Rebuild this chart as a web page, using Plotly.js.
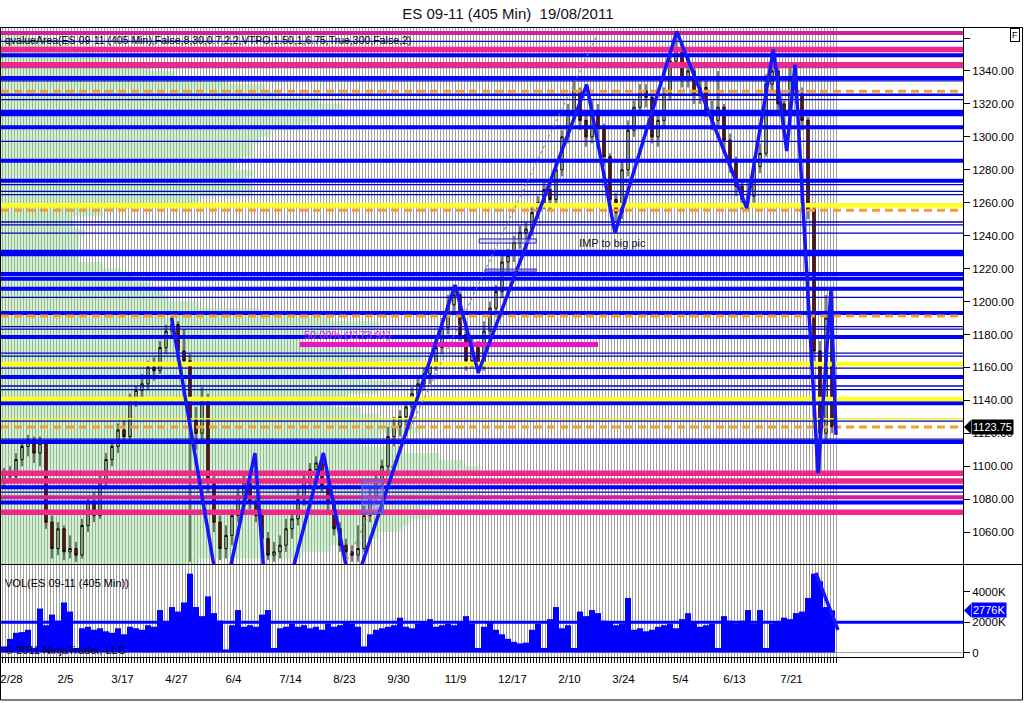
<!DOCTYPE html>
<html><head><meta charset="utf-8">
<script src="https://cdn.plot.ly/plotly-3.0.1.min.js"></script>
<style>html,body{margin:0;padding:0;background:#fff}#c{width:1024px;height:703px}</style>
</head><body><div id="c"></div>
<script>
// ---------- data ----------
const dateLabels = ['2/28','2/5','3/17','4/27','6/4','7/14','8/23','9/30','11/9','12/17','2/10','3/24','5/4','6/13','7/21'];
const dateIdx = [1.25,10.25,19.75,28.75,38.25,47.75,56.75,65.75,75.25,84.75,94.25,103.25,112.75,121.75,131.25];

const openP = [1090,1096,1094,1104,1112,1116,1108,1114,1066,1050,
1062,1048,1050,1046,1064,1078,1070,1090,1104,1112,
1122,1118,1140,1146,1150,1160,1158,1172,1182,1186,
1170,1164,1128,1120,1140,1090,1066,1050,1058,1070,
1082,1090,1078,1070,1056,1046,1048,1052,1062,1068,
1080,1092,1098,1102,1088,1078,1062,1052,1048,1046,
1050,1070,1082,1090,1100,1118,1124,1130,1136,1144,
1150,1156,1162,1172,1184,1198,1204,1180,1164,1172,
1162,1182,1196,1206,1224,1228,1236,1242,1244,1254,
1260,1268,1262,1280,1300,1316,1328,1310,1300,1316,
1306,1288,1262,1254,1280,1304,1318,1328,1324,1300,
1310,1326,1346,1354,1336,1340,1326,1330,1316,1310,
1318,1298,1284,1270,1262,1264,1282,1290,1332,1340,
1320,1314,1336,1326,1310,1256,1170,1120,1190];
const highP = [1099,1100,1108,1116,1119,1118,1118,1116,1070,1066,
1064,1058,1054,1068,1082,1084,1094,1108,1116,1126,
1128,1144,1149,1156,1164,1166,1176,1186,1191,1188,
1183,1168,1136,1148,1144,1094,1070,1064,1074,1088,
1096,1094,1082,1074,1060,1054,1058,1068,1072,1086,
1096,1102,1106,1104,1092,1082,1066,1056,1052,1064,
1076,1088,1096,1104,1124,1130,1134,1140,1148,1154,
1160,1166,1178,1190,1204,1210,1206,1184,1178,1176,
1188,1200,1210,1228,1232,1240,1246,1248,1258,1264,
1272,1274,1284,1304,1320,1334,1330,1314,1322,1320,
1308,1290,1266,1286,1310,1322,1332,1332,1326,1314,
1330,1350,1362,1356,1346,1342,1336,1334,1322,1340,
1320,1302,1288,1274,1272,1288,1296,1338,1347,1342,
1322,1344,1340,1330,1312,1260,1176,1204,1196];
const lowP = [1088,1090,1092,1100,1106,1102,1100,1062,1044,1046,
1043,1044,1042,1044,1060,1066,1068,1086,1100,1108,
1114,1116,1136,1142,1146,1152,1156,1168,1178,1166,
1162,1042,1110,1116,1084,1060,1043,1044,1052,1066,
1078,1074,1066,1052,1043,1042,1044,1048,1056,1064,
1076,1086,1090,1084,1072,1058,1048,1044,1042,1042,
1048,1066,1078,1086,1096,1112,1118,1124,1132,1140,
1146,1150,1158,1168,1180,1192,1176,1158,1160,1156,
1158,1178,1192,1202,1218,1224,1232,1236,1240,1250,
1256,1256,1258,1276,1296,1312,1304,1294,1296,1300,
1282,1256,1248,1250,1276,1300,1314,1318,1296,1294,
1306,1322,1342,1330,1330,1320,1320,1312,1304,1306,
1292,1278,1264,1256,1256,1260,1278,1288,1328,1314,
1308,1312,1320,1304,1250,1164,1096,1116,1120];
const closeP = [1096,1094,1104,1112,1116,1108,1114,1066,1050,1062,
1048,1050,1046,1064,1078,1070,1090,1104,1112,1122,
1118,1140,1146,1150,1160,1158,1172,1182,1186,1170,
1164,1128,1120,1140,1090,1066,1050,1058,1070,1082,
1090,1078,1070,1056,1046,1048,1052,1062,1068,1080,
1092,1098,1102,1088,1078,1062,1052,1048,1046,1050,
1070,1082,1090,1100,1118,1124,1130,1136,1144,1150,
1156,1162,1172,1184,1198,1204,1180,1164,1172,1162,
1182,1196,1206,1224,1228,1236,1242,1244,1254,1260,
1268,1262,1280,1300,1316,1328,1310,1300,1316,1306,
1288,1262,1254,1280,1304,1318,1328,1324,1300,1310,
1326,1346,1354,1336,1340,1326,1330,1316,1310,1318,
1298,1284,1270,1262,1264,1282,1290,1332,1340,1320,
1314,1336,1326,1310,1256,1170,1120,1190,1124];
// volume in thousands
const volumeK = [400,900,1300,1350,1500,300,2900,1800,2500,2100,
3300,2700,300,1600,1700,1500,1600,1400,1300,1600,
1200,1700,1600,1500,1800,1700,2800,2000,3000,2700,
3300,5200,3000,2400,3700,2600,2100,200,1800,2800,
1700,1800,1700,2500,2800,300,1600,1700,1900,1700,
1800,1600,1700,1500,1900,1700,1800,2000,1900,1700,
400,1200,1500,1600,1700,1800,2300,1700,1600,1900,
2000,2200,1700,1800,1900,1800,2000,2400,1900,300,
1700,2000,1500,1200,900,700,600,650,1500,1900,
300,2200,3000,1600,1800,300,2700,2400,2800,2600,
2100,2000,1800,1900,3600,1500,1600,1400,1500,1700,
1800,1900,1600,2200,2600,2000,1700,1800,1900,300,
2400,2100,1900,2100,2800,1900,2800,300,1900,2000,
2300,2200,2600,2700,3600,5200,4700,3000,2776];
const volAvgK = 1990;
const volZzIdx = [135.3, 139.0];
const volZzK = [5250, 1485];

// swing zigzag (bar index, price)
const zzIdx = [27.95,36.23,41.83,44.35,53.22,57.98,75.17,79.05,97.12,101.83,112.12,123.78,128.22,130.45,131.83,135.67,137.83,138.67];
const zzPrice = [1190,1013,1108,985,1108,1022,1210,1157,1331.7,1241.6,1364,1256.8,1353,1291.4,1343.8,1095.8,1207,1119];

// horizontal levels
const lvlPrice = [1363,1358,1353,1349.5,1343.8,1342.2,1335.7,1334,1327.7,1325.6,1322.6,1314.5,1305.8,1297.3,1285.5,1273.4,1271,1266.9,1264.9,1258.4,1255.4,1248.3,1246.6,1241.6,1229.5,1216.7,1213.8,1207.8,1202.5,1193,1191.2,1184.8,1183.3,1178.4,1168.7,1166.9,1162,1159.6,1154.1,1148.7,1146.5,1140.8,1138.3,1128.8,1127.4,1123.75,1116.5,1114.7,1095.8,1091,1087.3,1084.3,1081.2,1077.9,1072.1];
const lvlStyle = ['magenta','blueThin','pink','blueThick','pink','purpleThin','blueThick','blueThin','orangeDash','blueMid','blueThin','blueXL','blueThick','blueThin','blueThick','blueThick','blueThin','blueThin','blueThin','yellow','orangeDash','blueThin','blueThin','blueThin','blueXL','blueThick','blueThick','blueThick','blueThin','blueThick','orangeDash','blueThin','blueThin','blueThick','blueThin','blueThin','yellow','blueThin','blueThick','blueThin','blueThin','yellow','blueThick','yellowThin','blueThin','orangeDash','blueThin','blueThick','pink','pink','blueThick','blueThin','magenta','blueThick','pink'];

// volume profile (price row, width in bars)
const profPrice = [1362,1358,1354,1350,1346,1342,1338,1334,1330,1326,1322,1318,1314,1310,1306,1302,1298,1294,1290,1286,1282,1278,1274,1270,1266,1262,1258,1254,1250,1246,1242,1238,1234,1230,1226,1222,1218,1214,1210,1206,1202,1198,1194,1190,1186,1182,1178,1174,1170,1166,1162,1158,1154,1150,1146,1142,1138,1134,1130,1126,1122,1118,1114,1110,1106,1102,1098,1094,1090,1086,1082,1078,1074,1070,1066,1062,1058,1054,1050,1046,1042];
const profWidth = [5,8,12,13,18,25,29,38,44,46,53,57,58,53,50,45,43,42,42,40,39,42,41,42,42,33,22,17,12,12,14,13,13,12,13,17,20,22,25,27,28,33,43,55,63,55,50,53,60,70,63,57,60,67,63,58,55,60,63,67,70,63,60,67,73,77,80,78,75,77,80,73,70,72,68,67,63,60,55,50,33];

// fib retracement & drawings
const fibLevel = 1173.91, fibFrom = 49.3, fibTo = 99;
const trendIdx = [57.2, 99], trendPrice = [1043, 1363];
const boxes = [ {x0:79.2,x1:88.7,y0:1235.5,y1:1238}, {x0:80.2,x1:88.7,y0:1218.5,y1:1219.7} ];
const zone = {x0:59.7,x1:63.2,y0:1071.5,y1:1091.6};
const lastPrice = 1123.75, lastVolK = 2776;

// ---------- build ----------
const N = closeP.length;
const idx = []; for (let i=0;i<N;i++) idx.push(i);
const XR = [-0.5, 159.83];
const grid = []; for (let k=0;k<=2*N;k++) grid.push(-0.25 + 0.5*k);
const gridText = grid.map(v => { const j = dateIdx.findIndex(d => Math.abs(d-v)<0.01); return j>=0 ? dateLabels[j] : ''; });

const styles = {
  pink:{color:'#f0288c',width:5.5}, magenta:{color:'#d0209c',width:4}, purpleThin:{color:'#9a3cb8',width:2},
  blueThick:{color:'#0000ff',width:4}, blueXL:{color:'#0000ff',width:6.5}, blueMid:{color:'#0000f0',width:2.5},
  blueThin:{color:'#0000c0',width:1.3}, yellow:{color:'#ffff20',width:4.5}, yellowThin:{color:'#f0f020',width:1.6},
  orangeDash:{color:'#f4a024',width:3,dash:'8px,5px'}
};
const traces = [];
traces.push({type:'bar', orientation:'h', y:profPrice, x:profWidth, base:-0.5, width:4,
  marker:{color:'rgba(130,220,130,0.36)', line:{width:0}}, xaxis:'x', yaxis:'y', hoverinfo:'skip'});
const order = ['blueThin','purpleThin','yellowThin','blueMid','blueThick','blueXL','magenta','pink','yellow','orangeDash'];
order.forEach(s => {
  const xs=[], ys=[];
  lvlPrice.forEach((p,i)=>{ if (lvlStyle[i]===s){ xs.push(XR[0],XR[1],null); ys.push(p,p,null);} });
  if (xs.length) traces.push({type:'scatter',mode:'lines',x:xs,y:ys,xaxis:'x',yaxis:'y',
    line:Object.assign({},styles[s]),hoverinfo:'skip'});
});
traces.push({type:'scatter',mode:'lines',x:[fibFrom,fibTo],y:[fibLevel,fibLevel],xaxis:'x',yaxis:'y',line:{color:'#f010c8',width:5}});
traces.push({type:'scatter',mode:'lines',x:trendIdx,y:trendPrice,xaxis:'x',yaxis:'y',line:{color:'#808080',width:1,dash:'dot'}});
traces.push({type:'candlestick', x:idx, open:openP, high:highP, low:lowP, close:closeP, xaxis:'x', yaxis:'y',
  increasing:{line:{color:'#000000',width:1},fillcolor:'#d4f0c4'},
  decreasing:{line:{color:'#000000',width:1},fillcolor:'#a01818'}, hoverinfo:'skip'});
traces.push({type:'scatter',mode:'lines',x:zzIdx,y:zzPrice,xaxis:'x3',yaxis:'y3',line:{color:'#1414ff',width:3.5}});
traces.push({type:'bar', x:idx, y:volumeK, width:1, xaxis:'x2', yaxis:'y2', marker:{color:'#0000ff',line:{width:0}}});
traces.push({type:'scatter',mode:'lines',x:XR,y:[volAvgK,volAvgK],xaxis:'x2',yaxis:'y2',line:{color:'#0000ff',width:3}});
traces.push({type:'scatter',mode:'lines',x:volZzIdx,y:volZzK,xaxis:'x2',yaxis:'y2',line:{color:'#1414ff',width:3.5}});

const priceTicks=[]; for(let p=1060;p<=1360;p+=20) priceTicks.push(p);
const priceText = priceTicks.map(p => p===1360 ? '' : p.toFixed(2));
const PR=[1040.6,1366.1], VR=[-297,5776];
const px = x => (x-1)/962, py = y => (657-y)/629;

const shapes = [
  {type:'rect',xref:'paper',yref:'paper',x0:px(0.5),x1:px(1022.5),y0:py(700),y1:py(27.5),line:{color:'#000',width:1}},
  {type:'line',xref:'paper',yref:'paper',x0:px(0.5),x1:px(1022.5),y0:py(564.5),y1:py(564.5),line:{color:'#000',width:1}},
  {type:'rect',xref:'x',yref:'y',x0:zone.x0,x1:zone.x1,y0:zone.y0,y1:zone.y1,fillcolor:'rgba(120,120,255,0.35)',line:{color:'#6060d0',width:1.5}},
  {type:'path',xref:'paper',yref:'y',xsizemode:'pixel',ysizemode:'pixel',xanchor:1,yanchor:lastPrice,path:'M1,0 L8,7 L8,-7 Z',fillcolor:'#000',line:{width:0}},
  {type:'path',xref:'paper',yref:'y2',xsizemode:'pixel',ysizemode:'pixel',xanchor:1,yanchor:lastVolK,path:'M1,0 L8,7 L8,-7 Z',fillcolor:'#0000ff',line:{width:0}}
];
boxes.forEach(b => shapes.push({type:'rect',xref:'x',yref:'y',x0:b.x0,x1:b.x1,y0:b.y0,y1:b.y1,fillcolor:'rgba(200,200,255,0.4)',line:{color:'#2020c0',width:1}}));

const annotations = [
  {xref:'paper',yref:'paper',x:px(3),y:py(40),xanchor:'left',yanchor:'middle',showarrow:false,
   text:'qvalueArea(ES 09-11 (405 Min),False,8,30,0.7,2,2,VTPO,1.50,1,6.75,True,300,False,2)',font:{size:10.5,color:'#000'}},
  {xref:'paper',yref:'paper',x:px(3),y:py(583),xanchor:'left',yanchor:'middle',showarrow:false,text:'VOL(ES 09-11 (405 Min))',font:{size:11,color:'#000'}},
  {xref:'paper',yref:'paper',x:px(3),y:py(650),xanchor:'left',yanchor:'middle',showarrow:false,text:'© 2011 NinjaTrader, LLC',font:{size:11,color:'#000'}},
  {xref:'x',yref:'y',x:95.5,y:1235.3,xanchor:'left',yanchor:'middle',showarrow:false,text:'IMP to big pic',font:{size:11,color:'#202020'}},
  {xref:'x',yref:'y',x:49.7,y:1179.6,xanchor:'left',yanchor:'middle',showarrow:false,text:'50.00% (1173.91)',font:{size:11,color:'#e020d8'}},
  {xref:'paper',yref:'y',x:1,y:lastPrice,xanchor:'left',yanchor:'middle',xshift:8,showarrow:false,text:lastPrice.toFixed(2),bgcolor:'#000',font:{size:11,color:'#fff'},borderpad:1},
  {xref:'paper',yref:'y2',x:1,y:lastVolK,xanchor:'left',yanchor:'middle',xshift:8,showarrow:false,text:lastVolK+'K',bgcolor:'#0000ff',font:{size:11,color:'#fff'},borderpad:1},
  {xref:'paper',yref:'paper',x:px(1015),y:py(35),xanchor:'center',yanchor:'middle',showarrow:false,text:'F',bgcolor:'#fff',bordercolor:'#000',borderwidth:1,borderpad:1,font:{size:9,color:'#000'}}
];

const layout = {
  width:1024, height:703, margin:{l:1,r:61,t:28,b:46},
  paper_bgcolor:'#fff', plot_bgcolor:'#fff', showlegend:false, hovermode:false, boxgap:0.45,
  font:{family:'Liberation Sans, Arial, sans-serif', color:'#000', size:11},
  title:{text:'ES 09-11 (405 Min)\u00a0\u00a019/08/2011', x:0.496, xref:'container', xanchor:'center', y:1-14/703, yref:'container', yanchor:'middle', font:{size:15,color:'#111'}},
  xaxis:{domain:[0,1],anchor:'y',range:XR,tickmode:'array',tickvals:grid,showticklabels:false,ticks:'',showgrid:true,gridcolor:'#a2a2a2',gridwidth:1.2,zeroline:false,showline:false,rangeslider:{visible:false},fixedrange:true},
  xaxis2:{domain:[0,1],anchor:'y2',range:XR,tickmode:'array',tickvals:grid,ticktext:gridText,ticks:'outside',ticklen:5,tickwidth:1,tickcolor:'#000',tickangle:0,ticklabelstandoff:6,showgrid:true,gridcolor:'#a2a2a2',gridwidth:1.2,zeroline:false,showline:true,linecolor:'#000',linewidth:1,tickfont:{size:11.5,color:'#000'}},
  xaxis3:{overlaying:'x',anchor:'y3',range:XR,visible:false,showgrid:false},
  yaxis:{domain:[0.1478,1],anchor:'x',range:PR,side:'right',tickmode:'array',tickvals:priceTicks,ticktext:priceText,ticks:'outside',ticklen:6,tickcolor:'#000',showline:true,linecolor:'#000',linewidth:1,showgrid:false,zeroline:false,tickfont:{size:11.5,color:'#000'}},
  yaxis2:{domain:[0,0.1463],anchor:'x2',range:VR,side:'right',tickmode:'array',tickvals:[0,2000,4000],ticktext:['0','2000K','4000K'],ticks:'outside',ticklen:6,tickcolor:'#000',showline:true,linecolor:'#000',linewidth:1,showgrid:false,zeroline:true,zerolinecolor:'#a0a0a0',zerolinewidth:1,tickfont:{size:11.5,color:'#000'}},
  yaxis3:{overlaying:'y',anchor:'x3',range:PR,visible:false,showgrid:false},
  shapes:shapes, annotations:annotations
};
Plotly.newPlot('c', traces, layout, {displayModeBar:false, staticPlot:true});
</script></body></html>
